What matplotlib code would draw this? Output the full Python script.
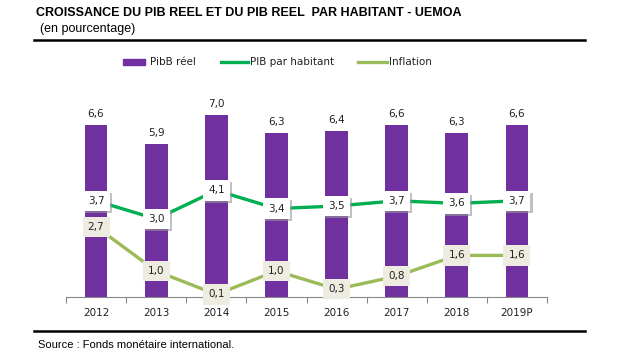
import matplotlib
matplotlib.use("Agg")
import matplotlib.pyplot as plt
from matplotlib.lines import Line2D
from matplotlib.patches import Rectangle
import matplotlib.patheffects as pe

years = ["2012", "2013", "2014", "2015", "2016", "2017", "2018", "2019P"]
pib_reel = [6.6, 5.9, 7.0, 6.3, 6.4, 6.6, 6.3, 6.6]
pib_hab = [3.7, 3.0, 4.1, 3.4, 3.5, 3.7, 3.6, 3.7]
inflation = [2.7, 1.0, 0.1, 1.0, 0.3, 0.8, 1.6, 1.6]
legend_labels = ["PibB réel", "PIB par habitant", "Inflation"]

PURPLE = "#7030A0"
GREEN = "#00B050"
LGREEN = "#9BBB59"

W, H = 618, 356
fig = plt.figure(figsize=(W / 100, H / 100), dpi=100)
ax = fig.add_axes([66 / W, (H - 297) / H, (547 - 66) / W, (297 - 89) / H])

x = list(range(len(years)))
ax.bar(x, pib_reel, width=0.38, color=PURPLE, zorder=1)
ax.plot(x, pib_hab, color=GREEN, lw=2.4, zorder=2)
ax.plot(x, inflation, color=LGREEN, lw=2.4, zorder=2)

ax.set_xlim(-0.5, len(years) - 0.5)
ax.set_ylim(0, 8)
ax.set_yticks([])
for s in ["top", "right", "left"]:
    ax.spines[s].set_visible(False)
ax.spines["bottom"].set_color("#888888")
ax.set_xticks([i - 0.5 for i in range(len(years) + 1)])
ax.set_xticklabels([])
ax.tick_params(axis="x", length=4, color="#888888", direction="out")
for i, y in enumerate(years):
    ax.text(i, -0.6, y, ha="center", va="center", fontsize=7.5, color="#222222",
            family="DejaVu Sans")

def fmt(v):
    return f"{v:.1f}".replace(".", ",")

for i, v in enumerate(pib_reel):
    ax.text(i, v + 0.42, fmt(v), ha="center", va="center", fontsize=7.5,
            color="#222222", family="DejaVu Sans")

for i, v in enumerate(pib_hab):
    t = ax.text(i, v, fmt(v), ha="center", va="center", fontsize=7.5, color="#222222",
                family="DejaVu Sans", zorder=4,
                bbox=dict(boxstyle="square,pad=0.5", fc="white", ec="none"))
    t.get_bbox_patch().set_path_effects(
        [pe.SimplePatchShadow(offset=(1.5, -1.5), shadow_rgbFace="#999999", alpha=0.6),
         pe.Normal()])

for i, v in enumerate(inflation):
    ax.text(i, v, fmt(v), ha="center", va="center", fontsize=7.5, color="#222222",
            family="DejaVu Sans", zorder=4,
            bbox=dict(boxstyle="square,pad=0.5", fc="#EEECE1", ec="none"))

# legend drawn manually to match reference spacing
ly = 1 - 62 / H
fig.add_artist(Rectangle((123 / W, ly - 3 / H), 22 / W, 6 / H, color=PURPLE,
                         transform=fig.transFigure))
fig.text(150 / W, ly, legend_labels[0], ha="left", va="center", fontsize=7.5,
         family="DejaVu Sans", color="#222222")
fig.add_artist(Line2D([221 / W, 248 / W], [ly, ly], color=GREEN, lw=2.4))
fig.text(250 / W, ly, legend_labels[1], ha="left", va="center", fontsize=7.5,
         family="DejaVu Sans", color="#222222")
fig.add_artist(Line2D([358 / W, 387 / W], [ly, ly], color=LGREEN, lw=2.4))
fig.text(389 / W, ly, legend_labels[2], ha="left", va="center", fontsize=7.5,
         family="DejaVu Sans", color="#222222")

fig.text(36 / W, 1 - 13 / H, "CROISSANCE DU PIB REEL ET DU PIB REEL  PAR HABITANT - UEMOA",
         ha="left", va="center", fontsize=9, fontweight="bold", family="Liberation Sans")
fig.text(40 / W, 1 - 29 / H, "(en pourcentage)", ha="left", va="center", fontsize=9,
         family="Liberation Sans")
fig.add_artist(Line2D([34 / W, 585 / W], [1 - 40 / H, 1 - 40 / H], color="black", lw=1.8))
fig.add_artist(Line2D([34 / W, 585 / W], [1 - 331 / H, 1 - 331 / H], color="black", lw=1.8))
fig.text(38 / W, 1 - 345 / H, "Source : Fonds monétaire international.", ha="left",
         va="center", fontsize=8, family="Liberation Sans")

fig.savefig("out.png", dpi=100, facecolor="white")
